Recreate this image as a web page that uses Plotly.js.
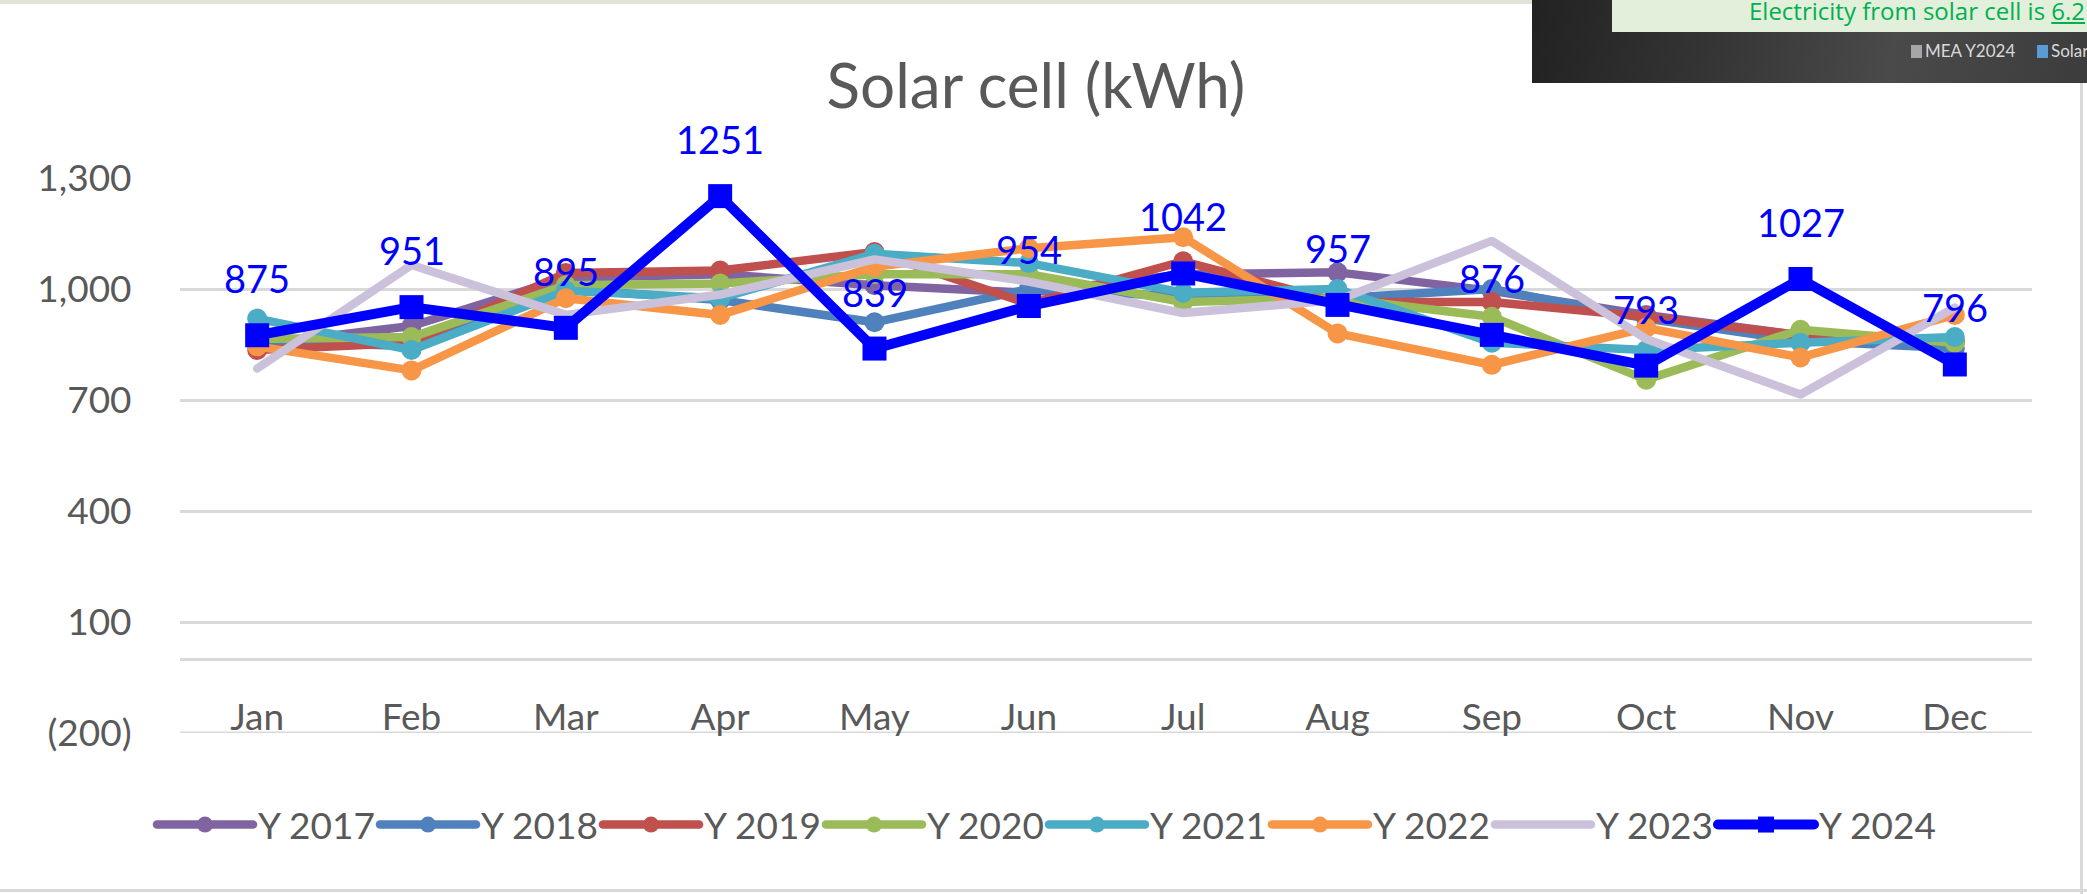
<!DOCTYPE html>
<html><head><meta charset="utf-8">
<script src="https://cdn.plot.ly/plotly-3.0.1.min.js"></script>
<style>
html,body{margin:0;padding:0;background:#fff;overflow:hidden;width:2087px;height:894px}
#chart{width:2087px;height:894px;position:absolute;left:0;top:0}
.js-line{stroke-linejoin:round;stroke-linecap:round}
#topline{position:absolute;left:0;top:0;width:1532px;height:4px;background:#dfe6d8}
#rightline{position:absolute;left:2080px;top:83px;width:3px;height:811px;background:#d9d9d9}
#bottomline{position:absolute;left:0;top:889px;width:2087px;height:3px;background:#d9d9d9}
#dark{position:absolute;left:1532px;top:0;width:555px;height:83px;background:linear-gradient(100deg,#222 0%,#333 30%,#4a4a4a 65%,#3c3c3c 100%);overflow:hidden;font-family:'Open Sans',sans-serif}
#green{position:absolute;left:80px;top:0;width:475px;height:32px;background:#e2efda;overflow:hidden;white-space:nowrap}
#green span{position:absolute;left:137px;top:-6px;font-size:24px;color:#00b050;font-family:'Open Sans',sans-serif}
#green u{text-decoration:underline}
#minileg{position:absolute;left:379px;top:40px;white-space:nowrap;font-size:17px;color:#d9d9d9;font-family:Lato,sans-serif}
#minileg i{display:inline-block;width:11px;height:13px;vertical-align:-1px;margin-right:3px}
</style></head>
<body>
<div id="chart"></div>
<div id="topline"></div>
<div id="rightline"></div>
<div id="bottomline"></div>
<div id="dark">
  <div id="green"><span>Electricity from solar cell is <u>6.2</u></span></div>
  <div id="minileg"><i style="background:#a6a6a6"></i>MEA Y2024&nbsp;&nbsp;&nbsp;&nbsp;&nbsp;<i style="background:#5b9bd5"></i>Solar</div>
</div>
<script>
// ---- data ----
const months = ["Jan","Feb","Mar","Apr","May","Jun","Jul","Aug","Sep","Oct","Nov","Dec"];
const y2017 = [850, 900, 1030, 1040, 1010, 990, 1040, 1045, 995, 930, 875, 855];
const y2018 = [860, 845, 1000, 970, 910, 1000, 980, 975, 1000, 920, 860, 840];
const y2019 = [835, 855, 1043, 1050, 1100, 960, 1075, 965, 965, 925, 875, 860];
const y2020 = [865, 870, 1010, 1015, 1040, 1040, 965, 975, 925, 755, 890, 855];
const y2021 = [920, 835, 995, 975, 1095, 1070, 990, 1000, 855, 835, 855, 870];
const y2022 = [845, 780, 975, 930, 1060, 1110, 1140, 880, 795, 895, 815, 930];
const y2023 = [785, 1065, 930, 985, 1080, 1020, 935, 970, 1130, 865, 715, 950];
const y2024 = [875, 951, 895, 1251, 839, 954, 1042, 957, 876, 793, 1027, 796];
const seriesNames = ["Y 2017","Y 2018","Y 2019","Y 2020","Y 2021","Y 2022","Y 2023","Y 2024"];
const yTickVals = [-200, 100, 400, 700, 1000, 1300];
const yTickText = ["(200)", "100", "400", "700", "1,000", "1,300"];
const yMin = -200, yMax = 1300;

const FONT = "Lato, 'Open Sans', sans-serif";
const GRAY = "#595959";
const GRID = "#D9D9D9";
const colors = ["#8064A2","#4F81BD","#C0504D","#9BBB59","#4BACC6","#F79646","#CCC1DA","#0000FF"];
const allY = [y2017,y2018,y2019,y2020,y2021,y2022,y2023,y2024];

const traces = allY.map((ys, i) => {
  const t = {
    type: "scatter", x: months, y: ys, name: seriesNames[i],
    mode: "lines+markers",
    line: {color: colors[i], width: 8.5},
    marker: {color: colors[i], size: 20, symbol: "circle"},
    hoverinfo: "x+y+name"
  };
  if (i === 6) { t.mode = "lines"; }
  if (i === 7) { t.line.width = 10; t.marker = {color: colors[i], size: 24, symbol: "square"}; }
  return t;
});

const annotations = months.map((m, i) => ({
  x: m, y: y2024[i], xref: "x", yref: "y", text: String(y2024[i]),
  showarrow: false, yshift: 57, yanchor: "middle",
  font: {family: FONT, size: 38, color: "#0000FF"}
}));

const layout = {
  width: 2087, height: 894,
  margin: {l: 180, r: 55, t: 178, b: 161},
  paper_bgcolor: "#fff", plot_bgcolor: "#fff",
  font: {family: FONT, color: GRAY},
  title: {text: "Solar cell (kWh)", font: {family: FONT, size: 62, color: GRAY},
          x: 1036/2087, xref: "container", xanchor: "center",
          y: 1 - 86/894, yref: "container", yanchor: "middle"},
  xaxis: {type: "category", categoryorder: "array", categoryarray: months,
          range: [-0.5, 11.5], showgrid: false, zeroline: false, showline: false,
          anchor: "free", position: 0.074,
          ticks: "", tickfont: {family: FONT, size: 37, color: GRAY}, fixedrange: true},
  yaxis: {range: [yMin, yMax], tickmode: "array", tickvals: yTickVals, ticktext: yTickText,
          showgrid: true, gridcolor: GRID, gridwidth: 3,
          zeroline: true, zerolinecolor: GRID, zerolinewidth: 3,
          showline: false, ticks: "outside", ticklen: 40, tickcolor: "rgba(0,0,0,0)",
          tickfont: {family: FONT, size: 37, color: GRAY}, fixedrange: true},
  shapes: [{type: "line", xref: "paper", x0: 0, x1: 1, yref: "y", y0: yMin, y1: yMin,
            line: {color: GRID, width: 3}, layer: "below"}],
  showlegend: true,
  legend: {orientation: "h", xref: "container", yref: "container",
           x: 1044/2087, xanchor: "center", y: 1 - 825/894, yanchor: "middle",
           font: {family: FONT, size: 37, color: GRAY},
           itemwidth: 96, entrywidth: 112, entrywidthmode: "pixels",
           traceorder: "normal", bgcolor: "rgba(0,0,0,0)"},
  annotations: annotations
};

Plotly.newPlot("chart", traces, layout, {displayModeBar: false, staticPlot: true});
</script>
</body></html>
